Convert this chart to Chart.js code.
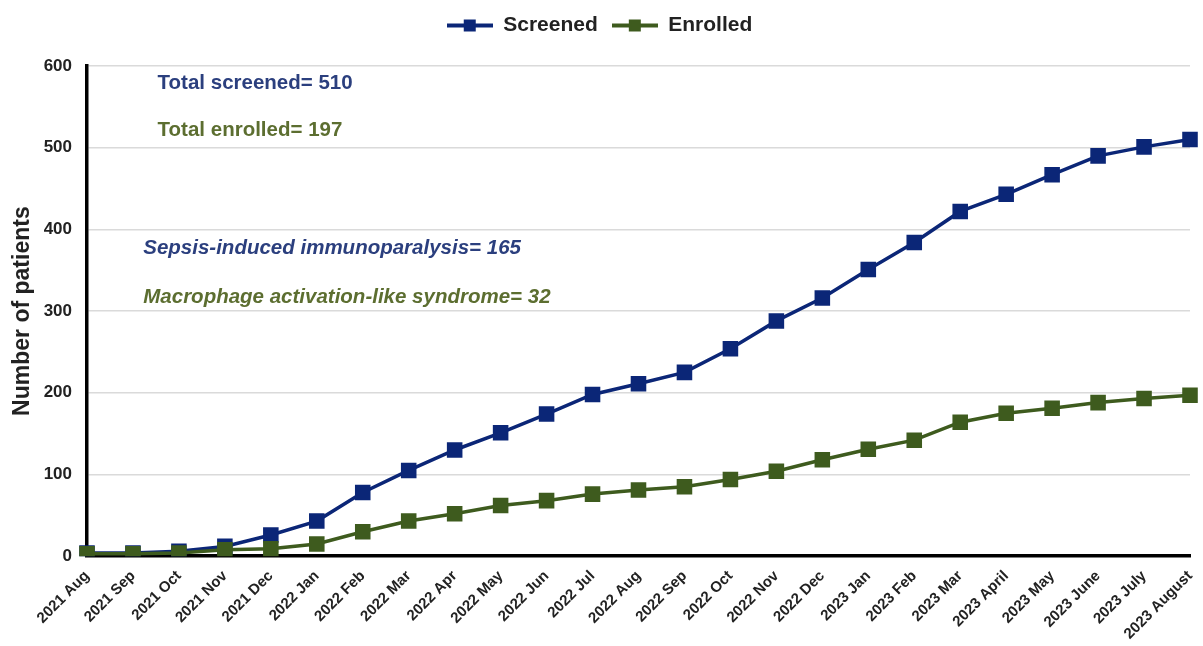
<!DOCTYPE html>
<html>
<head>
<meta charset="utf-8">
<script src="https://cdn.jsdelivr.net/npm/chart.js@4/dist/chart.umd.min.js"></script>
<style>
html,body{margin:0;padding:0;background:#fff;}
#wrap{width:1203px;height:646px;position:relative;}
</style>
</head>
<body>
<div id="wrap"><canvas id="c" width="1203" height="646"></canvas></div>
<script>
const categories = ["2021 Aug","2021 Sep","2021 Oct","2021 Nov","2021 Dec","2022 Jan","2022 Feb","2022 Mar","2022 Apr","2022 May","2022 Jun","2022 Jul","2022 Aug","2022 Sep","2022 Oct","2022 Nov","2022 Dec","2023 Jan","2023 Feb","2023 Mar","2023 April","2023 May","2023 June","2023 July","2023 August"];
const screened = [4,4,6,12,26,43,78,105,130,151,174,198,211,225,254,288,316,351,384,422,443,467,490,501,510];
const enrolled = [3,3,4,8,9,15,30,43,52,62,68,76,81,85,94,104,118,131,142,164,175,181,188,193,197];
const yTicks = [0,100,200,300,400,500,600];
const annotations = [
  {text:"Total screened= 510", color:"#2B3F7E", italic:false, xFrac:0.064, yFrac:0.035},
  {text:"Total enrolled= 197", color:"#5C6E30", italic:false, xFrac:0.064, yFrac:0.131},
  {text:"Sepsis-induced immunoparalysis= 165", color:"#2B3F7E", italic:true, xFrac:0.051, yFrac:0.372},
  {text:"Macrophage activation-like syndrome= 32", color:"#5C6E30", italic:true, xFrac:0.051, yFrac:0.472}
];

const BLUE = "#0B2677";
const GREEN = "#3E5B1E";
const FONT = "'Liberation Sans', Arial, sans-serif";

function legendIcon(color){
  const cv = document.createElement('canvas');
  cv.width = 46; cv.height = 14;
  const x = cv.getContext('2d');
  x.strokeStyle = color; x.lineWidth = 4;
  x.beginPath(); x.moveTo(0,7); x.lineTo(46,7); x.stroke();
  x.fillStyle = color; x.fillRect(17,1,12,12);
  return cv;
}
const icons = [legendIcon(BLUE), legendIcon(GREEN)];

const annotPlugin = {
  id:'annot',
  afterDatasetsDraw(chart){
    const ctx = chart.ctx, a = chart.chartArea;
    ctx.save();
    ctx.textBaseline = 'middle';
    ctx.textAlign = 'left';
    annotations.forEach(t=>{
      ctx.font = (t.italic ? 'italic ' : '') + 'bold 20.5px ' + FONT;
      ctx.fillStyle = t.color;
      ctx.fillText(t.text, a.left + t.xFrac*(a.right-a.left), a.top + t.yFrac*(a.bottom-a.top));
    });
    ctx.restore();
  }
};

const legendMargin = {
  id:'legendMargin',
  beforeInit(chart){
    const orig = chart.legend.fit;
    chart.legend.fit = function(){ orig.call(this); this.height += 20; };
  }
};

const chart = new Chart(document.getElementById('c'), {
  type:'line',
  data:{
    labels: categories,
    datasets:[
      {label:"Screened", order:1, data:screened, borderColor:BLUE, backgroundColor:BLUE, borderWidth:3.5, pointStyle:'rect', pointRadius:11, pointHoverRadius:11, pointBackgroundColor:BLUE, pointBorderWidth:0, tension:0},
      {label:"Enrolled", order:0, data:enrolled, borderColor:GREEN, backgroundColor:GREEN, borderWidth:3.5, pointStyle:'rect', pointRadius:11, pointHoverRadius:11, pointBackgroundColor:GREEN, pointBorderWidth:0, tension:0}
    ]
  },
  options:{
    responsive:false,
    animation:false,
    layout:{padding:{left:9, right:13, top:1, bottom:-8}},
    plugins:{
      legend:{
        position:'top',
        labels:{
          usePointStyle:true,
          pointStyleWidth:46,
          font:{family:FONT, size:21, weight:'bold'},
          color:'#222',
          padding:14,
          generateLabels(chart){
            return chart.data.datasets.map((ds,i)=>({
              text: ds.label, pointStyle: icons[i], fillStyle: ds.borderColor, strokeStyle: ds.borderColor, lineWidth:0, hidden:false, datasetIndex:i, fontColor:'#222'
            }));
          },
          sort(a,b){ return a.datasetIndex - b.datasetIndex; }
        }
      },
      tooltip:{enabled:false}
    },
    scales:{
      x:{
        offset:false,
        grid:{display:false, drawTicks:false},
        border:{display:true, color:'#000', width:3.5},
        afterFit(scale){ scale.paddingLeft = 0; scale.paddingRight = 0; },
        ticks:{
          autoSkip:false, maxRotation:45, minRotation:45, padding:11,
          font:{family:FONT, size:15, weight:'bold'}, color:'#222'
        }
      },
      y:{
        min:0, max:600,
        afterBuildTicks(axis){ axis.ticks = yTicks.map(v=>({value:v})); },
        afterFit(scale){ scale.width = 78; },
        grid:{color:'#DADADA', lineWidth:1.5, drawTicks:false},
        border:{display:true, color:'#000', width:3.5},
        ticks:{padding:15, font:{family:FONT, size:17, weight:'bold'}, color:'#222'},
        title:{display:true, text:"Number of patients", font:{family:FONT, size:23, weight:'bold'}, color:'#222', padding:{top:0, bottom:4}}
      }
    }
  },
  plugins:[annotPlugin, legendMargin]
});
</script>
</body>
</html>
